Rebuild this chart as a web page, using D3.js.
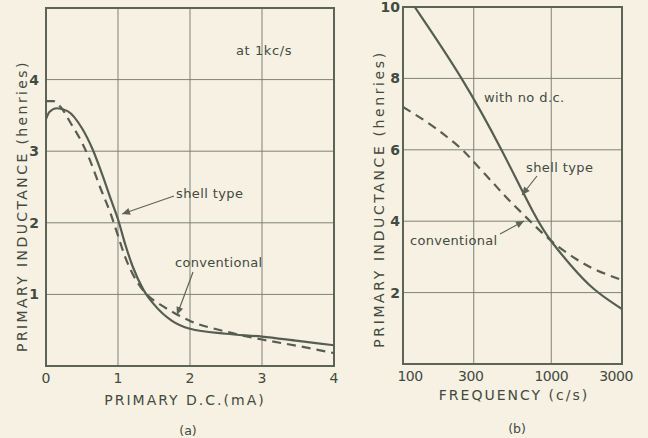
<!DOCTYPE html>
<html>
<head>
<meta charset="utf-8">
<script src="https://cdn.jsdelivr.net/npm/d3@7"></script>
<style>
  body { margin: 0; background: #f6f1e3; }
  svg { display: block; }
  text { font-family: "DejaVu Sans", sans-serif; fill: #434a40; }
  .grid line { stroke: #7d8276; stroke-width: 1; }
  .frame { fill: none; stroke: #5d6457; stroke-width: 2; }
  .curve { fill: none; stroke: #565d51; stroke-width: 2.2; }
  .dashed { stroke-dasharray: 9 6; }
  .note { stroke: #5d6457; stroke-width: 1.2; fill: none; }
</style>
</head>
<body>
<svg id="chart" width="648" height="438"></svg>
<script>
// (a) inductance vs primary d.c. at 1 kc/s
const dcTicks = [0, 1, 2, 3, 4];
const dcYTicks = [1, 2, 3, 4];
const shellDC = [0, 0.05, 0.15, 0.3, 0.5, 0.65, 0.8, 0.9, 1.0, 1.1, 1.2, 1.35, 1.5, 1.75, 2.0, 2.5, 3.0, 3.5, 4.0];
const shellL = [3.45, 3.55, 3.6, 3.56, 3.32, 3.02, 2.62, 2.33, 2.05, 1.7, 1.4, 1.07, 0.86, 0.63, 0.52, 0.45, 0.41, 0.35, 0.29];
const convDC = [0, 0.1, 0.2, 0.35, 0.5, 0.6, 0.75, 0.9, 1.0, 1.1, 1.25, 1.4, 1.6, 1.8, 2.0, 2.5, 3.0, 3.5, 4.0];
const convL = [3.7, 3.7, 3.62, 3.38, 3.12, 2.9, 2.5, 2.12, 1.82, 1.52, 1.2, 1.0, 0.85, 0.73, 0.63, 0.48, 0.37, 0.28, 0.18];

// (b) inductance vs frequency with no d.c.
const freqTicks = [100, 300, 1000, 3000];
const freqTickLabels = ["100", "300", "1000", "3000"];
const freqYTicks = [2, 4, 6, 8, 10];
const shellFreq = [120, 254, 466, 802, 1000, 1340, 1910, 3000];
const shellFreqL = [10, 8, 6, 4, 3.42, 2.78, 2.07, 1.54];
const convFreq = [100, 150, 200, 254, 300, 400, 500, 700, 1000, 1500, 2000, 3000];
const convFreqL = [7.2, 6.75, 6.35, 6.0, 5.66, 5.1, 4.65, 4.05, 3.42, 2.9, 2.62, 2.35];

const svg = d3.select("#chart");
svg.append("rect").attr("width", 648).attr("height", 438).attr("fill", "#f6f1e3");

const line = (x, y, c) => d3.line().x((d) => x(d[0])).y((d) => y(d[1])).curve(c);
const zip = (a, b) => a.map((d, i) => [d, b[i]]);

const arrow = (g, x1, y1, x2, y2) => {
  g.append("line").attr("class", "note")
    .attr("x1", x1).attr("y1", y1).attr("x2", x2).attr("y2", y2);
  const ang = Math.atan2(y2 - y1, x2 - x1);
  const len = 8, w = 3.5;
  const bx = x2 - len * Math.cos(ang), by = y2 - len * Math.sin(ang);
  g.append("path")
    .attr("d", `M${x2},${y2}L${bx + w * Math.sin(ang)},${by - w * Math.cos(ang)}L${bx - w * Math.sin(ang)},${by + w * Math.cos(ang)}Z`)
    .attr("fill", "#5d6457");
};

// ---------- panel (a) ----------
const xa = d3.scaleLinear().domain([0, 4]).range([46, 334]);
const ya = d3.scaleLinear().domain([0, 5]).range([366, 8]);
const ga = svg.append("g");
ga.append("defs").append("clipPath").attr("id", "clipA")
  .append("rect").attr("x", 46).attr("y", 8).attr("width", 288).attr("height", 358);

const gridA = ga.append("g").attr("class", "grid");
gridA.selectAll(".vx").data([1, 2, 3]).join("line")
  .attr("x1", xa).attr("x2", xa).attr("y1", ya(0)).attr("y2", ya(5));
gridA.selectAll(".hy").data(dcYTicks).join("line")
  .attr("x1", xa(0)).attr("x2", xa(4)).attr("y1", ya).attr("y2", ya);
ga.append("rect").attr("class", "frame")
  .attr("x", xa(0)).attr("y", ya(5)).attr("width", xa(4) - xa(0)).attr("height", ya(0) - ya(5));

ga.append("path").attr("class", "curve").attr("clip-path", "url(#clipA)")
  .attr("d", line(xa, ya, d3.curveMonotoneX)(zip(shellDC, shellL)));
ga.append("path").attr("class", "curve dashed").attr("clip-path", "url(#clipA)")
  .attr("d", line(xa, ya, d3.curveMonotoneX)(zip(convDC, convL)));

ga.selectAll(".xt").data(dcTicks).join("text")
  .attr("x", xa).attr("y", 383).attr("text-anchor", "middle")
  .attr("font-size", 14).text((d) => d);
ga.selectAll(".yt").data(dcYTicks).join("text")
  .attr("x", 39).attr("y", (d) => ya(d) + 5).attr("text-anchor", "end")
  .attr("font-size", 14).attr("font-weight", "bold").text((d) => d);

ga.append("text").attr("x", 185).attr("y", 405).attr("text-anchor", "middle")
  .attr("font-size", 14).attr("letter-spacing", 2).text("PRIMARY D.C.(mA)");
ga.append("text").attr("x", 188).attr("y", 435).attr("text-anchor", "middle")
  .attr("font-size", 12.5).text("(a)");
ga.append("text").attr("transform", "translate(27,206) rotate(-90)").attr("text-anchor", "middle")
  .attr("font-size", 14).attr("letter-spacing", 2.4).text("PRIMARY INDUCTANCE (henries)");
ga.append("text").attr("x", 236).attr("y", 55).attr("font-size", 13).attr("letter-spacing", 0.6).text("at 1kc/s");
ga.append("text").attr("x", 176).attr("y", 198).attr("font-size", 13).attr("letter-spacing", 0.4).text("shell type");
arrow(ga, 174, 196, 122, 214);
ga.append("text").attr("x", 175).attr("y", 267).attr("font-size", 13).attr("letter-spacing", 0.3).text("conventional");
arrow(ga, 193, 272, 177, 315);

// ---------- panel (b) ----------
const xb = d3.scaleLog().domain([100, 3000]).range([403, 622]);
const yb = d3.scaleLinear().domain([0, 10]).range([364, 7]);
const gb = svg.append("g");
gb.append("defs").append("clipPath").attr("id", "clipB")
  .append("rect").attr("x", 403).attr("y", 7).attr("width", 219).attr("height", 357);

const gridB = gb.append("g").attr("class", "grid");
gridB.selectAll(".vx").data([300, 1000]).join("line")
  .attr("x1", xb).attr("x2", xb).attr("y1", yb(0)).attr("y2", yb(10));
gridB.selectAll(".hy").data([2, 4, 6, 8]).join("line")
  .attr("x1", xb(100)).attr("x2", xb(3000)).attr("y1", yb).attr("y2", yb);
gb.append("rect").attr("class", "frame")
  .attr("x", xb(100)).attr("y", yb(10)).attr("width", xb(3000) - xb(100)).attr("height", yb(0) - yb(10));

gb.append("path").attr("class", "curve").attr("clip-path", "url(#clipB)")
  .attr("d", line(xb, yb, d3.curveBasis)(zip(shellFreq, shellFreqL)));
gb.append("path").attr("class", "curve dashed").attr("clip-path", "url(#clipB)")
  .attr("d", line(xb, yb, d3.curveBasis)(zip(convFreq, convFreqL)));

gb.selectAll(".xt").data(freqTicks).join("text")
  .attr("x", (d, i) => xb(d) + [7, -3, 0, -6][i]).attr("y", 381).attr("text-anchor", "middle")
  .attr("font-size", 14).attr("letter-spacing", -0.5).text((d, i) => freqTickLabels[i]);
gb.selectAll(".yt").data(freqYTicks).join("text")
  .attr("x", 400).attr("y", (d) => yb(d) + 5).attr("text-anchor", "end")
  .attr("font-size", 14).attr("font-weight", "bold").text((d) => d);

gb.append("text").attr("x", 514).attr("y", 400).attr("text-anchor", "middle")
  .attr("font-size", 14).attr("letter-spacing", 2).text("FREQUENCY (c/s)");
gb.append("text").attr("x", 517).attr("y", 433).attr("text-anchor", "middle")
  .attr("font-size", 12.5).text("(b)");
gb.append("text").attr("transform", "translate(384,199) rotate(-90)").attr("text-anchor", "middle")
  .attr("font-size", 14).attr("letter-spacing", 2.6).text("PRIMARY INDUCTANCE (henries)");
gb.append("text").attr("x", 484).attr("y", 102).attr("font-size", 13).attr("letter-spacing", 0.4).text("with no d.c.");
gb.append("text").attr("x", 526).attr("y", 172).attr("font-size", 13).attr("letter-spacing", 0.4).text("shell type");
arrow(gb, 537, 176, 522, 195);
gb.append("text").attr("x", 410).attr("y", 245).attr("font-size", 13).attr("letter-spacing", 0.3).text("conventional");
arrow(gb, 500, 234, 524, 221);
</script>
</body>
</html>
